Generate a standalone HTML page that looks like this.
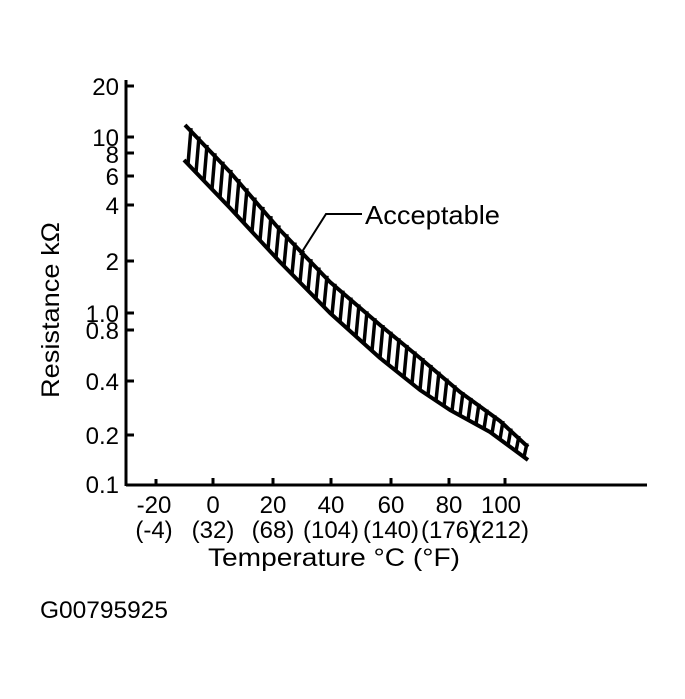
<!DOCTYPE html>
<html><head><style>
body{margin:0;background:#fff;}
svg text{font-family:"Liberation Sans",sans-serif;fill:#000;font-size:24px;}
</style></head><body>
<svg id="s" width="685" height="694" viewBox="0 0 685 694" xmlns="http://www.w3.org/2000/svg">
<g stroke="#000" stroke-width="3" fill="none">
<line x1="126" y1="80" x2="126" y2="486"/>
<line x1="126" y1="485" x2="647" y2="485"/>
<line x1="126" y1="86" x2="134" y2="86"/>
<line x1="126" y1="137" x2="134" y2="137"/>
<line x1="126" y1="153" x2="134" y2="153"/>
<line x1="126" y1="176" x2="134" y2="176"/>
<line x1="126" y1="205" x2="134" y2="205"/>
<line x1="126" y1="261" x2="134" y2="261"/>
<line x1="126" y1="313" x2="134" y2="313"/>
<line x1="126" y1="330" x2="134" y2="330"/>
<line x1="126" y1="381" x2="134" y2="381"/>
<line x1="126" y1="435" x2="134" y2="435"/>
<line x1="156" y1="485" x2="156" y2="479"/>
<line x1="213" y1="485" x2="213" y2="478"/>
<line x1="273" y1="485" x2="273" y2="478"/>
<line x1="331" y1="485" x2="331" y2="478"/>
<line x1="391" y1="485" x2="391" y2="478"/>
<line x1="449" y1="485" x2="449" y2="478"/>
<line x1="505" y1="485" x2="505" y2="478"/>
<polyline stroke-width="2" points="362,214 326,214 300,255"/>
</g>
<g id="band" stroke="#000" fill="none"></g>
<g text-anchor="end" style="font-size:25px">
<text x="119" y="95">20</text>
<text x="119" y="146">10</text>
<text x="119" y="163">8</text>
<text x="119" y="185">6</text>
<text x="119" y="214">4</text>
<text x="119" y="270">2</text>
<text x="119" y="322">1.0</text>
<text x="119" y="339">0.8</text>
<text x="119" y="390">0.4</text>
<text x="119" y="444">0.2</text>
<text x="119" y="493">0.1</text>
</g>
<g text-anchor="middle" style="font-size:23px">
<text x="154" y="513">-20</text><text x="154" y="538">(-4)</text>
<text x="213" y="513">0</text><text x="213" y="538">(32)</text>
<text x="273" y="513">20</text><text x="273" y="538">(68)</text>
<text x="331" y="513">40</text><text x="331" y="538">(104)</text>
<text x="391" y="513">60</text><text x="391" y="538">(140)</text>
<text x="449" y="513">80</text><text x="449" y="538">(176)</text>
<text x="501" y="513">100</text><text x="501" y="538">(212)</text>
</g>
<text x="208" y="566" style="font-size:25px" textLength="252" lengthAdjust="spacingAndGlyphs">Temperature °C (°F)</text>
<text x="365" y="224" style="font-size:26px" textLength="135" lengthAdjust="spacingAndGlyphs">Acceptable</text>
<text transform="translate(59,310) rotate(-90)" text-anchor="middle" style="font-size:25px" textLength="176" lengthAdjust="spacingAndGlyphs">Resistance  kΩ</text>
<text x="40" y="618" textLength="128" lengthAdjust="spacingAndGlyphs">G00795925</text>
</svg>
<script>
var U=[[185,125],[230,172],[280,230],[330,282],[380,325],[420,358],[460,392],[500,421],[528,447]];
var L=[[184,160],[230,208],[280,262],[330,313],[380,358],[420,390],[450,410],[490,432],[528,460]];
function f(P,x){for(var i=0;i<P.length-1;i++){if(x<=P[i+1][0]){var t=(x-P[i][0])/(P[i+1][0]-P[i][0]);return P[i][1]+t*(P[i+1][1]-P[i][1]);}}return P[P.length-1][1];}
var g=document.getElementById('band'),s="";
function pl(P){return P.map(function(p){return p.join(',')}).join(' ');}
s+='<polyline stroke-width="4" stroke-linejoin="round" points="'+pl(U)+'"/>';
s+='<polyline stroke-width="4" stroke-linejoin="round" points="'+pl(L)+'"/>';
for(var x=188;x<526;x+=8){var y1=f(U,x),y2=f(L,x);
s+='<line stroke-width="3.5" x1="'+(x+3)+'" y1="'+y1+'" x2="'+x+'" y2="'+y2+'"/>';}
g.innerHTML=s;
</script>
</body></html>
